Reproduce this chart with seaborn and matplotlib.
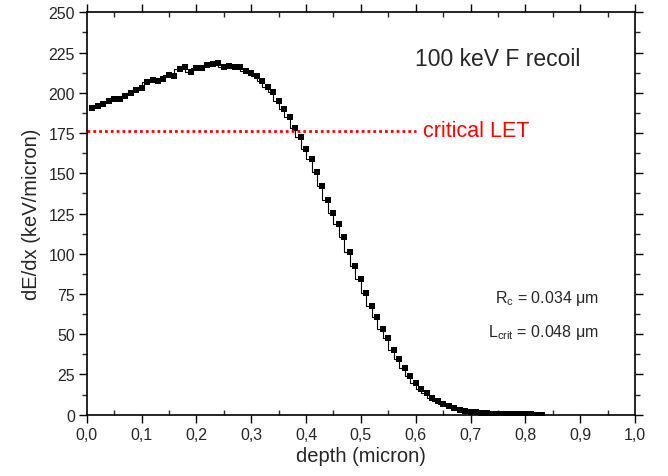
import matplotlib
matplotlib.use('Agg')
import matplotlib.pyplot as plt
import pandas as pd
import seaborn as sns
from matplotlib.ticker import MultipleLocator, FuncFormatter

# =============================================================================
# Data
# =============================================================================
depth = [0.01, 0.02, 0.03, 0.04, 0.05, 0.06, 0.07, 0.08, 0.09, 0.10,
         0.11, 0.12, 0.13, 0.14, 0.15, 0.16, 0.17, 0.18, 0.19, 0.20,
         0.21, 0.22, 0.23, 0.24, 0.25, 0.26, 0.27, 0.28, 0.29, 0.30,
         0.31, 0.32, 0.33, 0.34, 0.35, 0.36, 0.37, 0.38, 0.39, 0.40,
         0.41, 0.42, 0.43, 0.44, 0.45, 0.46, 0.47, 0.48, 0.49, 0.50,
         0.51, 0.52, 0.53, 0.54, 0.55, 0.56, 0.57, 0.58, 0.59, 0.60,
         0.61, 0.62, 0.63, 0.64, 0.65, 0.66, 0.67, 0.68, 0.69, 0.70,
         0.71, 0.72, 0.73, 0.74, 0.75, 0.76, 0.77, 0.78, 0.79, 0.80,
         0.81, 0.82, 0.83]

dedx = [190.3, 191.6, 193.2, 194.8, 195.9, 196.3, 198.1, 200.0, 201.5, 203.1,
        206.5, 208.1, 207.3, 208.5, 210.8, 210.2, 214.7, 216.1, 213.0, 215.2,
        215.5, 217.2, 217.6, 218.4, 216.1, 216.8, 216.1, 216.0, 213.7, 212.2,
        210.6, 207.1, 203.7, 200.6, 195.0, 190.1, 185.1, 177.9, 172.3, 164.8,
        158.8, 150.7, 142.4, 133.2, 125.1, 118.4, 110.6, 101.2, 92.4, 84.3,
        75.6, 67.5, 60.5, 53.4, 47.8, 40.0, 34.8, 29.2, 23.9, 19.7,
        16.0, 13.3, 10.4, 8.3, 6.6, 5.2, 4.0, 3.2, 2.5, 1.9,
        1.5, 1.2, 0.9, 0.7, 0.6, 0.5, 0.4, 0.3, 0.3, 0.2,
        0.2, 0.1, 0.1]

crit_let = 176
crit_depth = [0.0, 0.6]

df = pd.DataFrame({'depth': depth, 'dEdx': dedx})
df_crit = pd.DataFrame({'depth': crit_depth, 'dEdx': [crit_let, crit_let]})

# =============================================================================
# Plotting
# =============================================================================
sns.set_style('ticks')
plt.rcParams['font.family'] = ['Liberation Sans', 'DejaVu Sans']

fig = plt.figure(figsize=(6.68, 4.77), dpi=100)
ax = fig.add_axes([0.1298, 0.1285, 0.8208, 0.8436])

# stepped stopping-power curve with square markers
sns.lineplot(data=df, x='depth', y='dEdx', ax=ax, color='black',
             drawstyle='steps-pre', linewidth=0.8,
             marker='s', markersize=4.5, markeredgewidth=0,
             markerfacecolor='black')

# critical LET reference line
sns.lineplot(data=df_crit, x='depth', y='dEdx', ax=ax, color='red',
             linewidth=2.0, linestyle=(0, (1, 1.1)))

ax.set_xlim(0, 1.0)
ax.set_ylim(0, 250)

ax.xaxis.set_major_locator(MultipleLocator(0.1))
ax.xaxis.set_minor_locator(MultipleLocator(0.05))
ax.yaxis.set_major_locator(MultipleLocator(25))
ax.yaxis.set_minor_locator(MultipleLocator(12.5))
ax.xaxis.set_major_formatter(FuncFormatter(lambda v, p: f'{v:.1f}'.replace('.', ',')))
ax.yaxis.set_major_formatter(FuncFormatter(lambda v, p: f'{v:.0f}'))

ax.tick_params(axis='both', which='major', direction='out', length=5.5,
               width=1.0, labelsize=11.5, pad=3, color='black')
ax.tick_params(axis='x', which='minor', direction='in', length=3.5, width=1.0)
ax.tick_params(axis='y', which='minor', direction='out', length=3.5, width=1.0)
ax.tick_params(which='both', top=True, right=True)

for s in ax.spines.values():
    s.set_linewidth(1.2)
    s.set_color('black')

ax.set_xlabel('depth (micron)', fontsize=14.5, labelpad=3)
ax.set_ylabel('dE/dx (keV/micron)', fontsize=14.5, labelpad=5)

# annotations
ax.text(0.599, 217.1, '100 keV F recoil', fontsize=16.5, va='baseline', ha='left')
ax.text(0.613, 173.3, 'critical LET', fontsize=15.5, color='red',
        va='baseline', ha='left')
ax.text(0.934, 69.8, 'R$_\\mathregular{c}$ = 0.034 μm', fontsize=11.5,
        va='baseline', ha='right')
ax.text(0.934, 49.1, 'L$_\\mathregular{crit}$ = 0.048 μm', fontsize=11.5,
        va='baseline', ha='right')

fig.savefig('out.png', dpi=100)
